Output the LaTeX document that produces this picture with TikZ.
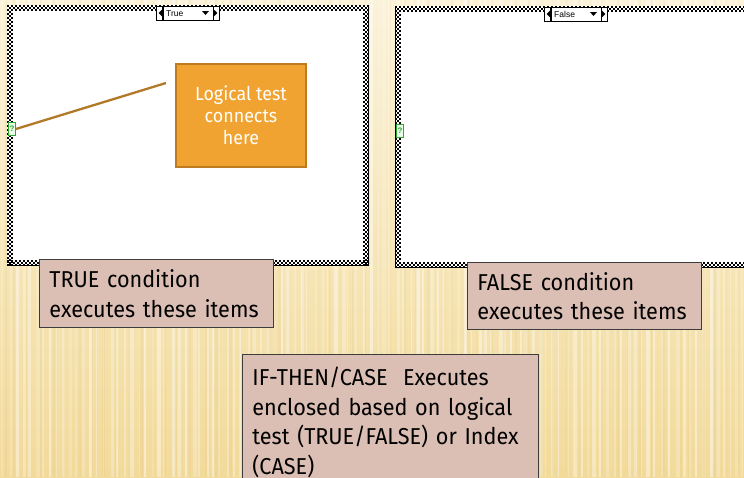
\documentclass[tikz,border=0pt]{standalone}
\usepackage{fontspec}
\setmainfont{Fira Sans}[FakeStretch=0.94]
\newfontfamily\uifont{Liberation Sans}

\definecolor{creamtop}{HTML}{FBF2D8}
\definecolor{creambot}{HTML}{F2DA9A}
\definecolor{stripedark}{HTML}{C9A24A}
\definecolor{notefill}{HTML}{DCBFB4}
\definecolor{noteline}{HTML}{3C3C3C}
\definecolor{orfill}{HTML}{F0A331}
\definecolor{orline}{HTML}{BE7C22}
\definecolor{wirecol}{HTML}{B27A28}
\definecolor{termgreen}{HTML}{2FA82F}

% checkered frame, 3 rows of 2pt squares, drawn as phase-shifted dashed lines
\newcommand{\checkframe}[4]{%
  \fill[white] (#1,#2) rectangle (#3,#4);
  \foreach \k/\ph in {0/0,1/2,2/0}{
    \draw[chkrow, dash phase=\ph pt] (#1,#2+1+2*\k) -- (#3,#2+1+2*\k);
    \draw[chkrow, dash phase=\ph pt] (#1,#4-1-2*\k) -- (#3,#4-1-2*\k);
    \draw[chkrow, dash phase=\ph pt] (#1+1+2*\k,#2) -- (#1+1+2*\k,#4);
    \draw[chkrow, dash phase=\ph pt] (#3-1-2*\k,#2) -- (#3-1-2*\k,#4);
  }%
}

\tikzset{
  chkrow/.style={line width=2pt, line cap=butt, dash pattern=on 2pt off 2pt},
  note/.style={draw=noteline, fill=notefill, line width=0.9pt, anchor=north west,
    inner xsep=10pt, inner ysep=0pt, align=left, text=black,
    font=\fontsize{23}{29.5}\selectfont},
  orbox/.style={draw=orline, fill=orfill, line width=1.6pt, minimum width=130pt,
    minimum height=103pt, inner sep=0pt, align=center, text=white,
    font=\fontsize{19}{22}\selectfont},
  wire/.style={draw=wirecol, line width=2.3pt},
  term/.style={draw=termgreen, fill=green!8, line width=0.8pt, minimum width=7pt,
    minimum height=13pt, inner sep=0pt, text=termgreen,
    font=\uifont\bfseries\fontsize{8}{8}\selectfont},
  selbody/.style={draw, fill=white, line width=0.6pt, minimum width=50pt,
    minimum height=14pt, inner sep=0pt},
  selarrow/.style={draw, fill=white, line width=0.6pt, minimum width=6pt,
    minimum height=14pt, inner sep=0pt},
  sellabel/.style={inner sep=0pt, font=\uifont\fontsize{8.5}{9}\selectfont},
}

\begin{document}
\begin{tikzpicture}[x=1pt,y=-1pt]
\useasboundingbox (0,0) rectangle (744,477);
\clip (0,0) rectangle (744,477);

% slide background: cream gradient with soft vertical rays
\shade[top color=creamtop, bottom color=creambot] (0,0) rectangle (744,477);
\pgfmathsetseed{42}
\foreach \i in {0,...,110}{
  \pgfmathsetmacro{\sx}{\i*6.8+3*rnd}
  \pgfmathsetmacro{\sw}{1+3*rnd}
  \pgfmathsetmacro{\so}{0.15+0.3*rnd}
  \fill[white, opacity=\so] (\sx,0) rectangle ++(\sw,477);
}
\foreach \i in {0,...,60}{
  \pgfmathsetmacro{\sx}{\i*12.5+5*rnd}
  \pgfmathsetmacro{\sw}{1+2*rnd}
  \fill[stripedark, opacity=0.07] (\sx,0) rectangle ++(\sw,477);
}

% TRUE case structure
\checkframe{7}{5}{369}{266}
\draw[line width=1.2pt] (368.4,5) -- (368.4,265.4) -- (7,265.4);

% FALSE case structure
\checkframe{395}{6}{761}{268}
\draw[line width=1.2pt] (395.6,6) -- (395.6,267.4) -- (744,267.4);

% selector labels
\node[selbody] (tsel) at (188,13) {};
\node[selarrow, anchor=east] (tselL) at (tsel.west) {};
\node[selarrow, anchor=west] (tselR) at (tsel.east) {};
\node[sellabel, anchor=west] (tseltxt) at (166,13.5) {True};
\fill (158.6,13) -- (161.8,9.8) -- (161.8,16.2) -- cycle;
\fill (217.4,13) -- (214.2,9.8) -- (214.2,16.2) -- cycle;
\fill (202,11) -- (209,11) -- (205.5,15) -- cycle;

\node[selbody] (fsel) at (576,14) {};
\node[selarrow, anchor=east] (fselL) at (fsel.west) {};
\node[selarrow, anchor=west] (fselR) at (fsel.east) {};
\node[sellabel, anchor=west] (fseltxt) at (554,14.5) {False};
\fill (546.6,14) -- (549.8,10.8) -- (549.8,17.2) -- cycle;
\fill (605.4,14) -- (602.2,10.8) -- (602.2,17.2) -- cycle;
\fill (590,12) -- (597,12) -- (593.5,16) -- cycle;

% selector terminals
\node[term] (tq) at (12,129) {?};
\node[term] (fq) at (400,131) {?};

% logical-test callout and its wire
\node[orbox] (logic) at (241,115.5) {Logical test\\connects\\here};
\coordinate (wend) at (166,83);
\draw[wire] (tq.east) -- (wend);

% explanatory notes
\node[note, text width=214pt, minimum height=68pt] (tnote) at (39,259)
  {TRUE condition\\executes these items};
\node[note, text width=214pt, minimum height=67pt] (fnote) at (467,262)
  {FALSE condition\\executes these items};
\node[note, text width=276pt, minimum height=136pt] (cnote) at (242,354)
  {IF-THEN/CASE\ \ Executes\\enclosed based on logical\\test (TRUE/FALSE) or Index\\(CASE)};
\end{tikzpicture}
\end{document}
